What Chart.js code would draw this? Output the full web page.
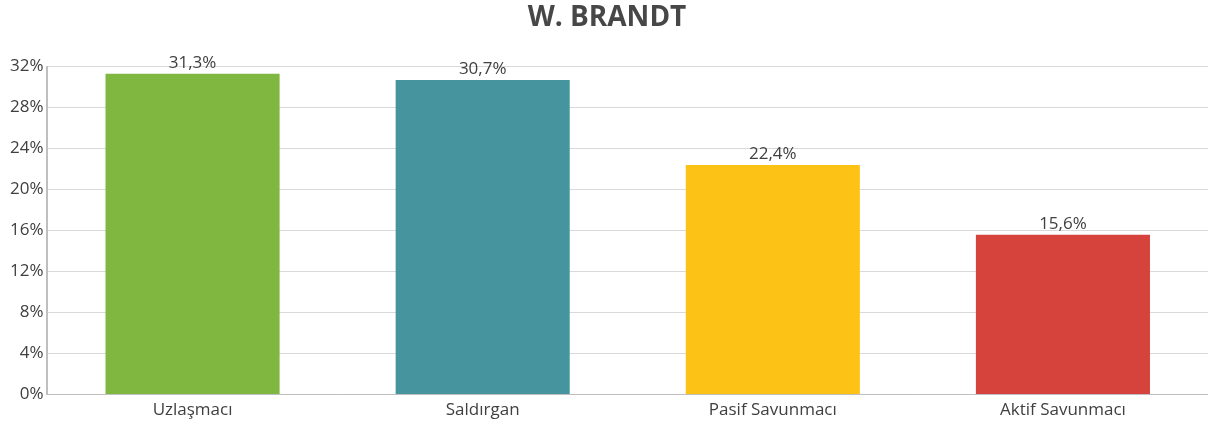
<!DOCTYPE html>
<html>
<head>
<meta charset="utf-8">
<script src="https://cdn.jsdelivr.net/npm/chart.js@4"></script>
<style>
  html, body { margin: 0; padding: 0; background: #fff; }
  #wrap { width: 1208px; height: 425px; position: relative; }
</style>
</head>
<body>
<div id="wrap"><canvas id="c"></canvas></div>
<script>
const categories = ["Uzlaşmacı", "Saldırgan", "Pasif Savunmacı", "Aktif Savunmacı"];
const values = [31.3, 30.7, 22.4, 15.6];
const barColors = ["#80b741", "#46949e", "#fcc216", "#d5433c"];
const yTicks = [0, 4, 8, 12, 16, 20, 24, 28, 32];
const titleText = "W. BRANDT";

const FONT = "'Open Sans', 'Noto Sans', sans-serif";

const valueLabels = {
  id: 'valueLabels',
  afterDatasetsDraw(chart) {
    const ctx = chart.ctx;
    const meta = chart.getDatasetMeta(0);
    ctx.save();
    ctx.font = "17px " + FONT;
    ctx.fillStyle = "#404040";
    ctx.textAlign = "center";
    ctx.textBaseline = "alphabetic";
    meta.data.forEach((el, i) => {
      const txt = values[i].toFixed(1).replace('.', ',') + '%';
      ctx.fillText(txt, el.x, el.y - 6);
    });
    ctx.restore();
  }
};

new Chart(document.getElementById('c'), {
  type: 'bar',
  data: {
    labels: categories,
    datasets: [{
      data: values,
      backgroundColor: barColors,
      borderWidth: 0,
      barPercentage: 0.6,
      categoryPercentage: 1.0
    }]
  },
  options: {
    responsive: true,
    maintainAspectRatio: false,
    animation: false,
    layout: { padding: { left: 6, right: 0, top: 0, bottom: 0 } },
    plugins: {
      legend: { display: false },
      tooltip: { enabled: false },
      title: {
        display: true,
        text: titleText,
        color: "#474747",
        font: { family: FONT, size: 28, weight: 'bold' },
        padding: { top: 1, bottom: 32 }
      }
    },
    scales: {
      x: {
        grid: { display: false, drawTicks: false },
        border: { display: true, color: "#bfbfbf", width: 1 },
        ticks: { color: "#404040", font: { family: FONT, size: 17 }, padding: 5 }
      },
      y: {
        min: 0,
        max: 32,
        afterBuildTicks(axis) { axis.ticks = yTicks.map(v => ({ value: v })); },
        grid: { color: "#d9d9d9", lineWidth: 1, drawTicks: false },
        border: { display: true, color: "#bfbfbf", width: 2 },
        ticks: {
          color: "#404040",
          font: { family: FONT, size: 17 },
          padding: 4,
          callback: v => v + '%'
        }
      }
    }
  },
  plugins: [valueLabels]
});
</script>
</body>
</html>
